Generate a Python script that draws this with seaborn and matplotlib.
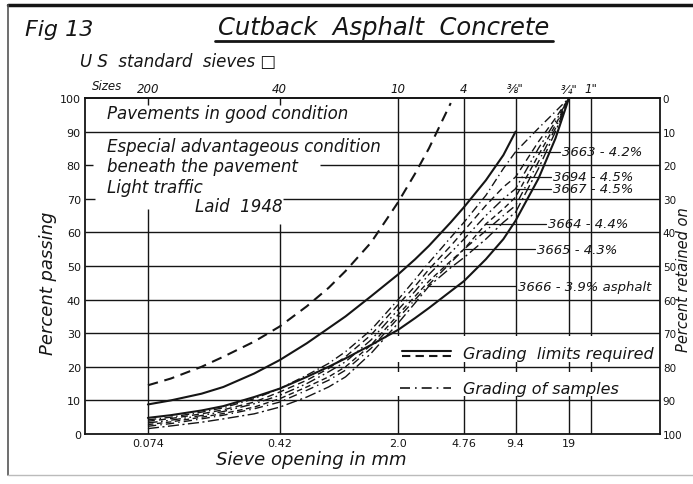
import matplotlib
matplotlib.use("Agg")
import matplotlib.pyplot as plt
from matplotlib.lines import Line2D
from matplotlib.patches import Rectangle
from matplotlib.ticker import NullLocator
import seaborn as sns
import pandas as pd

# ---- grading data (percent passing vs sieve opening, mm) ----
sieve_mm = [0.074, 0.1, 0.15, 0.2, 0.3, 0.42, 0.6, 0.8, 1.0, 1.4, 2.0,
            2.5, 3.0, 4.0, 4.76, 6.35, 8.0, 9.4, 12.7, 15.9, 19.0]

upper_dashed_mm = [0.074, 0.1, 0.15, 0.2, 0.3, 0.42, 0.6, 0.8, 1.0, 1.4,
                   2.0, 2.5, 3.0, 4.0]
upper_dashed = [14.5, 16.5, 20, 23, 27.5, 32, 38, 43.5, 48.5, 57,
                69, 77.5, 85, 98.5]

upper_solid_mm = [0.074, 0.1, 0.15, 0.2, 0.3, 0.42, 0.6, 0.8, 1.0, 1.4,
                  2.0, 2.5, 3.0, 4.0, 4.76, 6.35, 8.0, 9.4]
upper_solid = [8.8, 10, 12, 14, 18, 22, 27, 31.5, 35, 41,
               47.5, 52, 56, 63, 67.5, 75.5, 83, 90]

lower_solid = [4.8, 5.6, 7, 8.3, 11, 13.5, 17, 20, 22.5, 26.5, 31,
               34.5, 37.5, 42.5, 45.5, 52, 58, 63.5, 76, 88, 100]

s3663 = [4.2, 5.0, 6.5, 7.8, 10.5, 13.5, 17.5, 21, 24.5, 31, 40,
         46, 51, 58.5, 63, 71, 79, 84, 91, 96, 100]
s3694 = [3.8, 4.6, 6.0, 7.2, 9.5, 12.5, 16, 19.5, 23, 29.5, 38.5,
         44, 49, 56, 60.5, 68, 73.5, 76.5, 87, 94, 100]
s3667 = [3.3, 4.1, 5.5, 6.7, 9.0, 11.5, 15, 18.5, 21.5, 28, 37,
         42.5, 47.5, 54, 58, 65, 70, 73, 85, 93, 100]
s3664 = [2.8, 3.6, 5.0, 6.1, 8.0, 10.5, 14, 17, 20, 26.5, 35.5,
         41, 45.5, 51.5, 55, 62.5, 67, 70.5, 83, 92, 100]
s3665 = [2.3, 3.1, 4.5, 5.6, 7.5, 9.5, 13, 16, 19, 25.5, 34.5,
         40, 44.5, 51, 55, 60.5, 65, 68, 81, 91, 100]
s3666 = [1.6, 2.4, 3.5, 4.5, 6.0, 8.0, 11, 14, 17, 24, 33,
         39, 44, 49.5, 52.5, 58, 63, 66, 79, 90, 100]

sample_names = ["3663", "3694", "3667", "3664", "3665", "3666"]
sample_values = [s3663, s3694, s3667, s3664, s3665, s3666]
sample_texts = ["3663 - 4.2%", "3694 - 4.5%", "3667 - 4.5%",
                "3664 - 4.4%", "3665 - 4.3%", "3666 - 3.9% asphalt"]
# sieve index where each label's leader touches its curve
leader_index = [17, 17, 17, 15, 14, 12]
# label start position along the size axis (mm)
label_x_mm = [17.3, 15.4, 15.4, 14.4, 12.5, 9.7]

bottom_ticks = [0.074, 0.42, 2.0, 4.76, 9.4, 19.0]
bottom_tick_labels = ["0.074", "0.42", "2.0", "4.76", "9.4", "19"]
us_sieves_mm = [0.074, 0.42, 2.0, 4.76, 9.4, 19.0, 25.4]
us_sieve_labels = ["200", "40", "10", "4", "⅜\"", "¾\"", "1\""]
pct_ticks = list(range(0, 101, 10))

# ---- long tables for seaborn ----
rows = []
for x, y in zip(upper_dashed_mm, upper_dashed):
    rows.append(("upper dashed", x, y))
for x, y in zip(upper_solid_mm, upper_solid):
    rows.append(("upper solid", x, y))
for x, y in zip(sieve_mm, lower_solid):
    rows.append(("lower solid", x, y))
limits = pd.DataFrame(rows, columns=["series", "size", "passing"])

srows = []
for name, vals in zip(sample_names, sample_values):
    for x, y in zip(sieve_mm, vals):
        srows.append((name, x, y))
samples = pd.DataFrame(srows, columns=["series", "size", "passing"])

ink = "#151515"
hand = {"family": "DejaVu Sans", "style": "italic"}

sns.set_theme(style="white")
plt.rcParams["font.family"] = ["DejaVu Sans"]

fig = plt.figure(figsize=(6.93, 4.85), dpi=100)
fig.patch.set_facecolor("white")
ax = fig.add_axes([85 / 693, 1 - 435 / 485, 575 / 693, 336 / 485])
x_lo, x_hi = 0.0323, 63.0
ax.set_xscale("log")
ax.set_xlim(x_lo, x_hi)
ax.set_ylim(0, 100)

# ---- grid, with the breaks left for the notes and the legend ----
grid_kw = dict(color=ink, lw=1.0, zorder=1)
hidden_rows = {80: (0.036, 0.71), 70: (0.037, 0.44)}
for p in range(10, 100, 10):
    if p in hidden_rows:
        a, b = hidden_rows[p]
        ax.hlines(p, x_lo, a, **grid_kw)
        ax.hlines(p, b, x_hi, **grid_kw)
    else:
        ax.hlines(p, x_lo, x_hi, **grid_kw)
hidden_cols = {0.074: (67, 98), 0.42: (62.5, 98)}
for s in us_sieves_mm:
    if s in hidden_cols:
        a, b = hidden_cols[s]
        ax.vlines(s, 0, a, **grid_kw)
        ax.vlines(s, b, 100, **grid_kw)
    else:
        ax.vlines(s, 0, 100, **grid_kw)

# legend panel masks
for y0, h in [(21.4, 7.8), (11.2, 7.4)]:
    ax.add_patch(Rectangle((1.96, y0), x_hi - 1.96, h, facecolor="white",
                           edgecolor="none", zorder=1.5))

# ---- curves ----
sns.lineplot(data=limits, x="size", y="passing", style="series",
             dashes={"upper dashed": (5, 3.2), "upper solid": "", "lower solid": ""},
             color=ink, linewidth=1.5, estimator=None, sort=False,
             legend=False, ax=ax, zorder=3)
sns.lineplot(data=samples, x="size", y="passing", style="series",
             dashes={"3663": (6, 2.5, 1, 2.5), "3694": (5, 3),
                     "3667": (7, 2.5, 1.2, 2.5, 1.2, 2.5), "3664": (4, 2.5),
                     "3665": (6, 3, 1, 3), "3666": (8, 2.5, 1.5, 2.5)},
             color=ink, linewidth=1.0, estimator=None, sort=False,
             legend=False, ax=ax, zorder=3)

# ---- sample labels with leaders ----
for vals, txt, idx, lx in zip(sample_values, sample_texts, leader_index, label_x_mm):
    px, py = sieve_mm[idx], vals[idx]
    ax.plot([px, lx * 0.97], [py, py], color=ink, lw=0.9, zorder=3)
    ax.text(lx, py, txt, fontsize=9.5, color=ink, va="center", ha="left",
            zorder=4, **hand)

# ---- legend ----
ax.plot([2.1, 4.0], [24.6, 24.6], color=ink, lw=1.5, zorder=4)
ax.plot([2.1, 4.0], [23.2, 23.2], color=ink, lw=1.5, dashes=(4, 2.5), zorder=4)
ax.text(4.7, 24.0, "Grading  limits required", fontsize=11.5, color=ink,
        va="center", ha="left", zorder=4, **hand)
ax.plot([2.05, 4.0], [13.6, 13.6], color=ink, lw=1.2, dashes=(6, 3, 1, 3), zorder=4)
ax.text(4.7, 13.6, "Grading of samples", fontsize=11.5, color=ink,
        va="center", ha="left", zorder=4, **hand)

# ---- notes in the upper left ----
note_kw = dict(fontsize=12, color=ink, va="center", ha="left", zorder=4, **hand)
ax.text(0.0431, 95.5, "Pavements in good condition", **note_kw)
ax.text(0.0431, 85.7, "Especial advantageous condition", **note_kw)
ax.text(0.0431, 79.8, "beneath the pavement", **note_kw)
ax.text(0.0431, 73.6, "Light traffic", **note_kw)
ax.text(0.137, 67.8, "Laid  1948", **note_kw)

# ---- axes, ticks ----
for sp in ax.spines.values():
    sp.set_visible(True)
    sp.set_color(ink)
    sp.set_linewidth(1.3)
ax.set_xticks(bottom_ticks)
ax.set_xticklabels(bottom_tick_labels)
ax.xaxis.set_minor_locator(NullLocator())
ax.set_yticks(pct_ticks)
ax.tick_params(axis="both", length=0, pad=3, labelsize=8, colors=ink)
ax.set_xlabel("")
ax.set_ylabel("")

top = ax.secondary_xaxis("top")
top.set_xticks(us_sieves_mm)
top.set_xticklabels(us_sieve_labels)
top.xaxis.set_minor_locator(NullLocator())
top.tick_params(length=0, pad=2, labelsize=8.5, colors=ink)
for lab in top.get_xticklabels():
    lab.set_fontstyle("italic")

right = ax.twinx()
right.set_ylim(100, 0)
right.set_yticks(pct_ticks)
right.tick_params(axis="y", length=0, pad=2, labelsize=7.5, colors=ink)
right.grid(False)
for sp in right.spines.values():
    sp.set_visible(False)

# ---- figure texts ----
fig.text(25 / 693, 1 - 30 / 485, "Fig 13", fontsize=16, color=ink,
         va="center", ha="left", **hand)
fig.text(384 / 693, 1 - 28 / 485, "Cutback  Asphalt  Concrete", fontsize=17.5,
         color=ink, va="center", ha="center", **hand)
fig.add_artist(Line2D([215 / 693, 553 / 693], [1 - 42 / 485] * 2,
                      color=ink, lw=2.0))
fig.text(80 / 693, 1 - 62 / 485, "U S  standard  sieves □", fontsize=12,
         color=ink, va="center", ha="left", **hand)
fig.text(92 / 693, 1 - 86 / 485, "Sizes", fontsize=8.5, color=ink,
         va="center", ha="left", **hand)
fig.text(48 / 693, 1 - 283 / 485, "Percent passing", fontsize=13, color=ink,
         va="center", ha="center", rotation=90, **hand)
fig.text(684 / 693, 1 - 280 / 485, "Percent retained on", fontsize=10.5,
         color=ink, va="center", ha="center", rotation=90, **hand)
fig.text(311 / 693, 1 - 460 / 485, "Sieve opening in mm", fontsize=13,
         color=ink, va="center", ha="center", **hand)

# page frame
fig.add_artist(Line2D([8 / 693, 1.0], [1 - 6 / 485] * 2, color=ink, lw=2.5))
fig.add_artist(Line2D([8 / 693, 8 / 693], [1 - 6 / 485, 1 - 476 / 485],
                      color="#555555", lw=1.2))
fig.add_artist(Line2D([8 / 693, 1.0], [1 - 476 / 485] * 2,
                      color="#bbbbbb", lw=1.0))

fig.savefig("out.png", dpi=100, facecolor="white")
